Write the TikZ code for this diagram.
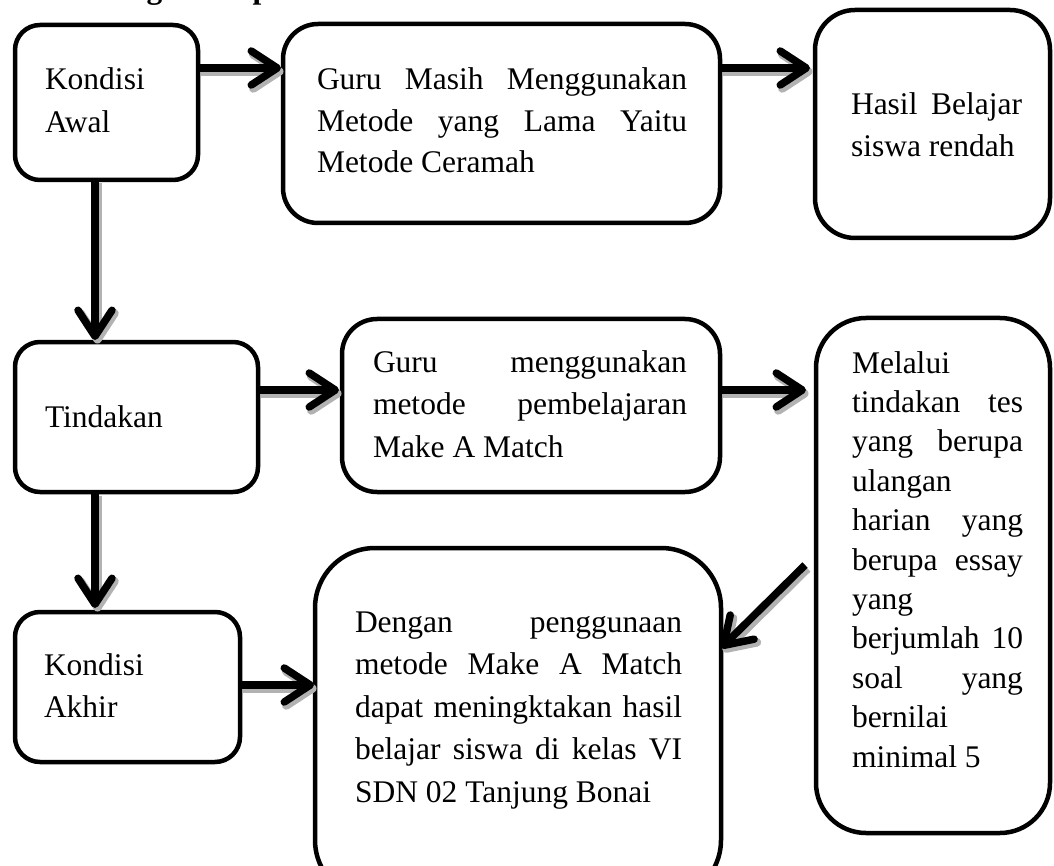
\documentclass[tikz,border=0pt]{standalone}
\usepackage{fontspec}
\setmainfont{Liberation Serif}
\usetikzlibrary{arrows.meta,calc}
\newcommand{\spreadline}[1]{\makebox[\linewidth][s]{#1}}
\newcommand{\boxtext}[3]{\parbox[t]{#1}{\fontsize{31.5}{#2}\selectfont #3}}
\begin{document}
\begin{tikzpicture}[x=1pt,y=-1pt,
  box/.style={draw=black, line width=4.5pt, rounded corners=#1, inner sep=0pt, outer sep=0pt, anchor=north west, fill=white},
  txt/.style={inner sep=0pt, outer sep=0pt, anchor=base west, font=\fontsize{31.5}{42}\selectfont},
  arr/.style={line width=7.5pt, -{Straight Barb[length=26pt,width=34pt,round]},
    preaction={draw=black!30, line width=8.5pt, -{Straight Barb[length=26pt,width=34pt,round]}, transform canvas={shift={(2.5pt,-3.5pt)}}}}]
\useasboundingbox (0,0) rectangle (1054,866);
\clip (0,0) rectangle (1054,866);

% heading (only its lower part is visible)
\node[txt, font=\bfseries\fontsize{31.5}{38}\selectfont] (head) at (61,-1.5) {Kerangka Berpikir};

% boxes
\node[box=25, minimum width=183pt, minimum height=155pt] (b1) at (15,25) {};
\node[box=35, minimum width=437pt, minimum height=199pt] (b2) at (283,24) {};
\node[box=40, minimum width=235pt, minimum height=228pt] (b3) at (815,10) {};
\node[box=25, minimum width=243pt, minimum height=150pt] (b4) at (15,342) {};
\node[box=35, minimum width=378pt, minimum height=173pt] (b5) at (342,319) {};
\node[box=50, minimum width=234pt, minimum height=515pt] (b6) at (816,318) {};
\node[box=25, minimum width=225pt, minimum height=150pt] (b7) at (15,612) {};
\node[box=60, minimum width=406pt, minimum height=352pt] (b8) at (315,548) {};

% texts
\node[txt] (t1) at (45,90) {\boxtext{120pt}{43pt}{Kondisi\\Awal}};
\node[txt] (t2) at (317,90) {\boxtext{370pt}{41.5pt}{\spreadline{Guru Masih Menggunakan}\\\spreadline{Metode yang Lama Yaitu}\\Metode Ceramah}};
\node[txt] (t3) at (851,115) {\boxtext{171pt}{42pt}{\spreadline{Hasil Belajar}\\siswa rendah}};
\node[txt] (t4) at (45,427) {\boxtext{150pt}{42pt}{Tindakan}};
\node[txt] (t5) at (373,372) {\boxtext{314pt}{42.5pt}{\spreadline{Guru menggunakan}\\\spreadline{metode pembelajaran}\\Make A Match}};
\node[txt] (t6) at (852,373) {\boxtext{171pt}{39.4pt}{Melalui\\\spreadline{tindakan tes}\\\spreadline{yang berupa}\\ulangan\\\spreadline{harian yang}\\\spreadline{berupa essay}\\yang\\\spreadline{berjumlah 10}\\\spreadline{soal yang}\\bernilai\\minimal 5}};
\node[txt] (t7) at (44,675) {\boxtext{120pt}{42pt}{Kondisi\\Akhir}};
\node[txt] (t8) at (355,632) {\boxtext{327pt}{42.5pt}{\spreadline{Dengan penggunaan}\\\spreadline{metode Make A Match}\\\spreadline{dapat meningktakan hasil}\\\spreadline{belajar siswa di kelas VI}\\SDN 02 Tanjung Bonai}};

% connectors
\draw[arr, shorten >=2pt] (b1.east |- 0,68) -- (b2.west |- 0,68);
\draw[arr, shorten >=5pt] (b2.east |- 0,68) -- (b3.west |- 0,68);
\draw[arr, shorten >=2pt] (b1.south -| 95,0) -- (b4.north -| 95,0);
\draw[arr, shorten >=3pt] (b4.east |- 0,390) -- (b5.west |- 0,390);
\draw[arr, shorten >=10pt] (b5.east |- 0,390) -- (b6.west |- 0,390);
\draw[arr, shorten >=4pt] (b4.south -| 95,0) -- (b7.north -| 95,0);
\draw[arr, shorten >=1pt] (b7.east |- 0,685) -- (b8.west |- 0,685);
\draw[arr] ($(b6.west |- 0,565)+(-11,0)$) -- (b8.east |- 0,648);
\end{tikzpicture}
\end{document}
